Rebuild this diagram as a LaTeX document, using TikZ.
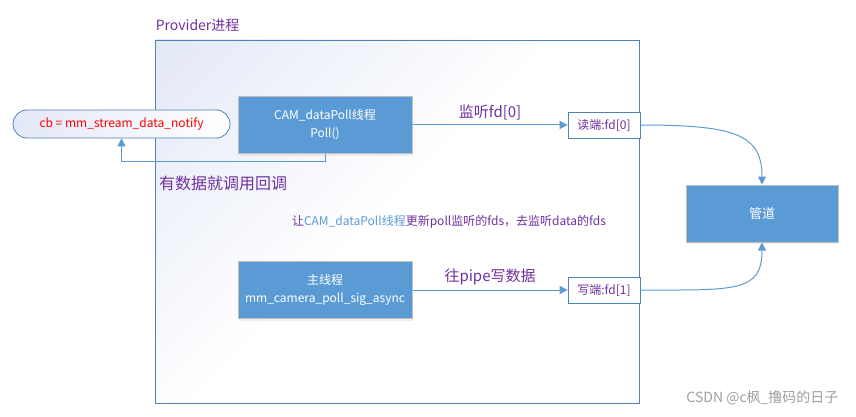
\documentclass[tikz,border=0pt]{standalone}
\usepackage{fontspec}
\setmainfont{Noto Sans CJK SC}
\usetikzlibrary{arrows.meta, positioning, shadows}
\definecolor{boxblue}{RGB}{91, 155, 213}
\definecolor{edgeblue}{RGB}{79, 129, 189}
\definecolor{plum}{RGB}{112, 48, 160}
\definecolor{boxgrey}{RGB}{191, 191, 191}
\definecolor{frametint}{RGB}{226, 232, 246}
\pgfdeclareverticalshading{framefade}{100bp}{color(0bp)=(white); color(52bp)=(white); color(86bp)=(frametint); color(100bp)=(frametint)}

\begin{document}
\begin{tikzpicture}[x=1pt, y=-1pt,
            thread/.style={draw=boxgrey, line width=1pt, fill=boxblue, text=white, minimum width=174pt, minimum height=57pt, align=center, font=\fontsize{12}{18}\selectfont, drop shadow={opacity=0.12, shadow xshift=1pt, shadow yshift=-2pt}},
            fdbox/.style={draw=edgeblue, line width=0.8pt, fill=white, text=plum, minimum width=72pt, minimum height=26pt, inner sep=0pt, font=\fontsize{12}{14}\selectfont},
            cbbox/.style={draw=edgeblue, line width=0.8pt, rounded corners=14pt, left color=frametint, right color=white, text=red, minimum width=217pt, minimum height=28pt, inner sep=0pt, font=\fontsize{12}{14}\selectfont},
            link/.style={draw=boxblue, line width=1pt, -{Triangle[length=8pt, width=8pt]}},
            tag/.style={text=plum, font=\fontsize{15}{17}\selectfont}
        ]
            \useasboundingbox (0,0) rectangle (856,417);
            \node[draw=edgeblue, line width=0.8pt, shade, shading=framefade, shading angle=45, minimum width=484pt, minimum height=363pt, inner sep=0pt] (frame) at (397,221.5) {};
            \node[tag, anchor=base west, inner sep=0pt, font=\fontsize{14}{16}\selectfont] (title) at ([xshift=1pt, yshift=9pt]frame.north west) {Provider进程};

            \node[cbbox] (cb) at (121.5,124) {cb = mm\_stream\_data\_notify};
            \node[thread] (poll) at (325,125) {CAM\_dataPoll线程 \\ Poll()};
            \node[thread] (mainth) at (325,290) {主线程 \\ mm\_camera\_poll\_sig\_async};
            \node[fdbox] (rd) at (604,125) {读端:fd[0]};
            \node[fdbox] (wr) at (604,290) {写端:fd[1]};
            \node[thread, minimum width=152pt, font=\fontsize{13}{16}\selectfont] (pipe) at (762,213.5) {管道};

            \node[tag, anchor=base west, inner sep=0pt, font=\fontsize{16}{18}\selectfont] (cbnote) at (159,189) {有数据就调用回调};
            \node[text=plum, font=\fontsize{12}{14}\selectfont] (hint) at (449,222) {让\textcolor{boxblue}{CAM\_dataPoll线程}更新poll监听的fds，去监听data的fds};

            \draw[link] (poll.east) -- node[tag, above=1pt] (lbl0) {监听fd[0]} (rd.west);
            \draw[link] (mainth.east) -- node[tag, above=1pt] (lbl1) {往pipe写数据} (wr.west);
            \draw[link] (poll.south) -- ++(0,7) -| (cb.south);
            \draw[link] (rd.east) .. controls +(95,0) and +(0,-50) .. (pipe.north);
            \draw[link] (wr.east) .. controls +(95,0) and +(0,50) .. (pipe.south);

            \node[anchor=base east, text=gray!75, font=\fontsize{14}{16}\selectfont] (mark) at (842,402) {CSDN @c枫\_撸码的日子};
        \end{tikzpicture}
\end{document}
